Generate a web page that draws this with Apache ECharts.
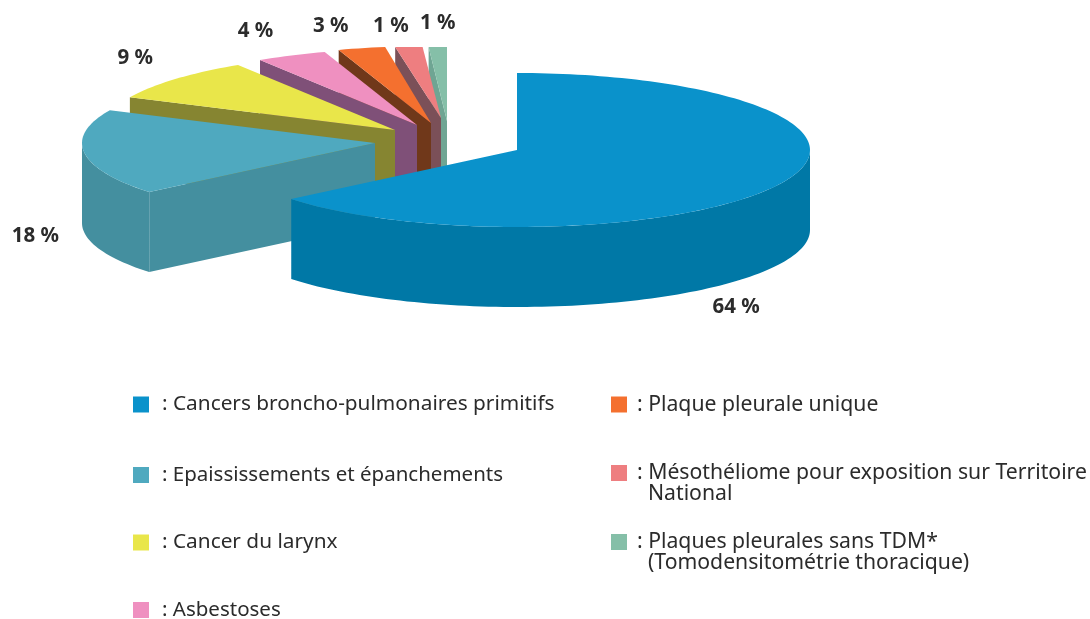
<!DOCTYPE html>
<html><head><meta charset="utf-8">
<style>html,body{margin:0;padding:0;background:#fff}#c{width:1090px;height:619px}</style>
<script src="https://cdn.jsdelivr.net/npm/echarts@6/dist/echarts.min.js"></script>
</head><body><div id="c"></div>
<script>
// ---- data ----
const categories = ['Cancers broncho-pulmonaires primitifs','Epaississements et épanchements','Cancer du larynx','Asbestoses','Plaque pleurale unique','Mésothéliome pour exposition sur Territoire National','Plaques pleurales sans TDM* (Tomodensitométrie thoracique)'];
const values = [64, 18, 9, 3.9, 2.6, 1.5, 1];
const valueLabels = ['64 %','18 %','9 %','4 %','3 %','1 %','1 %'];
const legendLines = [
  ['Cancers broncho-pulmonaires primitifs'],
  ['Epaississements et épanchements'],
  ['Cancer du larynx'],
  ['Asbestoses'],
  ['Plaque pleurale unique'],
  ['Mésothéliome pour exposition sur Territoire','National'],
  ['Plaques pleurales sans TDM*','(Tomodensitométrie thoracique)']
];
// ---- styles and layout ----
const topColors  = ['#0a92cb','#4fa9bf','#e9e64a','#ef90c0','#f4702f','#ee7e80','#85bfa8'];
const sideColors = ['#0078a6','#448f9f','#868531','#7f5078','#70381a','#7b5058','#6fa593'];
const apexes = [[517,150],[375,143],[395,130],[417,125],[431,123],[441,118],[447,121]];
const labelOffsets = [[-46,124],[-49,84],[-40,-21],[-36,-24],[-31,-22],[-18,-21],[0,-24]];
const legendPos = [[133,394],[133,464.5],[133,532],[133,599.5],[611,394],[611,441.5],[611,510.5]];
const legendTextPad = [8,8,8,8,5,5,5];
const legendFontSize = [20.8,20.5,20.8,20.5,21.2,21.2,21.2];
const RX = 293, RY = 77, DEPTH = 80, TOP_CLIP = 47, STEP = 1.5;
const FONT = '"Noto Sans", sans-serif';

const total = values.reduce((a,b)=>a+b,0);
const rad = d => d*Math.PI/180;
function point(i, deg, drop){
  const [ax,ay] = apexes[i];
  const y = ay - RY*Math.cos(rad(deg));
  return [ax + RX*Math.sin(rad(deg)), (drop ? y + DEPTH : Math.max(y, TOP_CLIP))];
}
function arc(i, a0, a1, drop){
  const pts = [];
  const n = Math.max(1, Math.ceil((a1-a0)/STEP));
  for(let k=0;k<=n;k++) pts.push(point(i, a0+(a1-a0)*k/n, drop));
  return pts;
}
function renderSlice(i, start, end){
  const [ax,ay] = apexes[i];
  const children = [];
  // visible flat cut wall
  if(Math.sin(rad(start)) < -1e-6){
    const e = point(i,start,false), b = point(i,start,true);
    children.push({type:'polygon',shape:{points:[[ax,ay],e,b,[ax,ay+DEPTH]]},style:{fill:sideColors[i]}});
  }
  // visible outer curved wall
  const w0 = Math.max(start,90), w1 = Math.min(end,270);
  if(w1 > w0){
    children.push({type:'polygon',shape:{points:arc(i,w0,w1,false).concat(arc(i,w0,w1,true).reverse())},style:{fill:sideColors[i]}});
  }
  // top face
  children.push({type:'polygon',shape:{points:[[ax,ay]].concat(arc(i,start,end,false))},style:{fill:topColors[i]}});
  // value label
  const mid = (start+end)/2, m = point(i,mid,false);
  children.push({type:'text',style:{text:valueLabels[i],x:m[0]+labelOffsets[i][0],y:m[1]+labelOffsets[i][1],
    align:'center',verticalAlign:'middle',fill:'#2b2b2b',font:'bold 20.5px '+FONT}});
  return {type:'group',children};
}
let acc = 0;
const ranges = values.map(v=>{const s=acc; acc+=v; return [s/total*360, acc/total*360];});

const series = categories.map((name,i)=>({
  name, type:'custom', coordinateSystem:'none', silent:true,
  itemStyle:{color:topColors[i]},
  z: 2 + (categories.length-i),
  data:[[values[i]]],
  renderItem:()=>renderSlice(i, ranges[i][0], ranges[i][1])
})).reverse();

const legend = categories.map((name,i)=>({
  data:[name], left:legendPos[i][0], top:legendPos[i][1], padding:0,
  orient:'vertical', icon:'rect', itemWidth:16, itemHeight:16, itemGap:0, selectedMode:false,
  textStyle:{fontFamily:FONT,fontSize:legendFontSize[i],color:'#2b2b2b',lineHeight:21,padding:[0,0,0,legendTextPad[i]]},
  formatter:()=>{
    const l = legendLines[i];
    return l.length===1 ? ': '+l[0] : '\n: '+l[0]+'\n  '+l[1];
  }
}));

const chart = echarts.init(document.getElementById('c'),null,{renderer:'canvas'});
chart.setOption({animation:false,backgroundColor:'#fff',tooltip:{show:false},legend,series});
</script></body></html>
